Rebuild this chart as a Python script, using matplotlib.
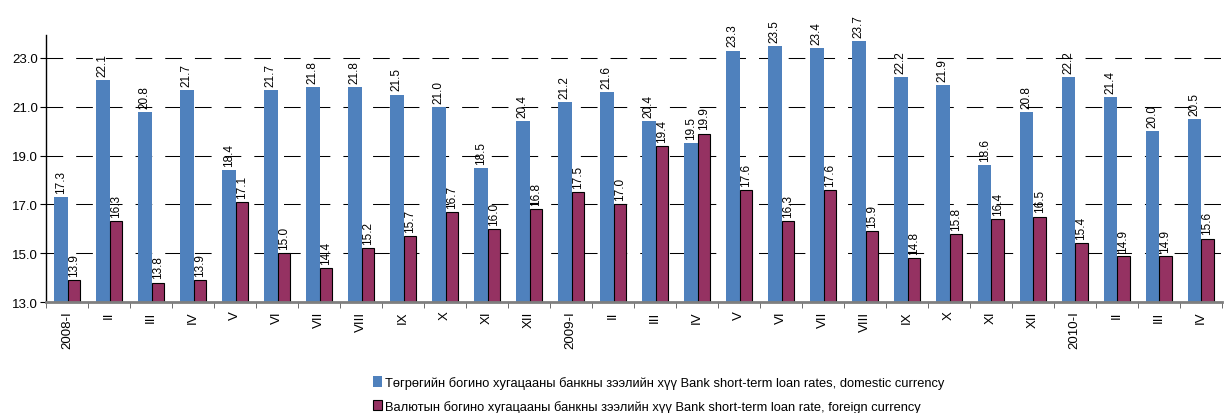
import matplotlib
matplotlib.use("Agg")
import matplotlib.pyplot as plt
import numpy as np

plt.rcParams['font.family'] = ['Liberation Sans', 'DejaVu Sans']

categories = ["2008-I", "II", "III", "IV", "V", "VI", "VII", "VIII", "IX", "X", "XI", "XII",
              "2009-I", "II", "III", "IV", "V", "VI", "VII", "VIII", "IX", "X", "XI", "XII",
              "2010-I", "II", "III", "IV"]
domestic = [17.3, 22.1, 20.8, 21.7, 18.4, 21.7, 21.8, 21.8, 21.5, 21.0, 18.5, 20.4,
            21.2, 21.6, 20.4, 19.5, 23.3, 23.5, 23.4, 23.7, 22.2, 21.9, 18.6, 20.8,
            22.2, 21.4, 20.0, 20.5]
foreign = [13.9, 16.3, 13.8, 13.9, 17.1, 15.0, 14.4, 15.2, 15.7, 16.7, 16.0, 16.8,
           17.5, 17.0, 19.4, 19.9, 17.6, 16.3, 17.6, 15.9, 14.8, 15.8, 16.4, 16.5,
           15.4, 14.9, 14.9, 15.6]
legend_labels = ["Төгрөгийн богино хугацааны банкны зээлийн хүү Bank short-term loan rates, domestic currency",
                 "Валютын богино хугацааны банкны зээлийн хүү Bank short-term loan rate, foreign currency"]
yticks = [13.0, 15.0, 17.0, 19.0, 21.0, 23.0]

blue = '#4f81bd'
red = '#953262'

fig = plt.figure(figsize=(12.24, 4.14), dpi=100)
ax = fig.add_axes([0.0376, 0.268, 0.9604, 0.645])

x = np.arange(len(categories))
wb = 0.33
wr = 0.29
gap_left = (wb + wr) / 2
xb = x - gap_left + wb / 2
xr = x - gap_left + wb + wr / 2

for y in yticks[1:]:
    ax.axhline(y, color='black', lw=0.75, dashes=(16, 12.5), zorder=0)

bb = ax.bar(xb, [d - 13 for d in domestic], bottom=13, width=wb, color=blue, zorder=2, label=legend_labels[0])
br = ax.bar(xr, [f - 13 for f in foreign], bottom=13, width=wr, color=red, edgecolor='black', lw=0.8, zorder=2, label=legend_labels[1])

for xi, v in zip(xb, domestic):
    ax.text(xi, v + 0.17, f"{v:.1f}", rotation=90, ha='center', va='bottom', fontsize=8.5)
for xi, v in zip(xr, foreign):
    ax.text(xi, v + 0.17, f"{v:.1f}", rotation=90, ha='center', va='bottom', fontsize=8.5)

ax.set_xlim(-0.5, len(categories) - 0.5)
ax.set_ylim(13, 23.94)
ax.set_yticks(yticks)
ax.set_yticklabels([f"{t:.1f}" for t in yticks], fontsize=9.5)
ax.set_xticks(x)
ax.set_xticklabels(categories, rotation=90, fontsize=9.5)
ax.tick_params(axis='x', length=0, pad=6)
ax.set_xticks(np.arange(len(categories) + 1) - 0.5, minor=True)
ax.tick_params(axis='x', which='minor', length=4, color='#555555')
ax.tick_params(axis='y', length=4, pad=2)

for s in ['top', 'right']:
    ax.spines[s].set_visible(False)
ax.spines['bottom'].set_color('#7f7f7f')
ax.spines['bottom'].set_linewidth(2)
ax.spines['left'].set_color('black')
ax.spines['left'].set_linewidth(1)

fig.legend(handles=[bb, br], labels=legend_labels, loc='upper left', bbox_to_anchor=(0.305, 0.09),
           frameon=False, fontsize=9.3, handlelength=0.7, handleheight=0.9, handletextpad=0.2,
           labelspacing=0.85, borderpad=0, borderaxespad=0)

fig.savefig('out.png', dpi=100)
